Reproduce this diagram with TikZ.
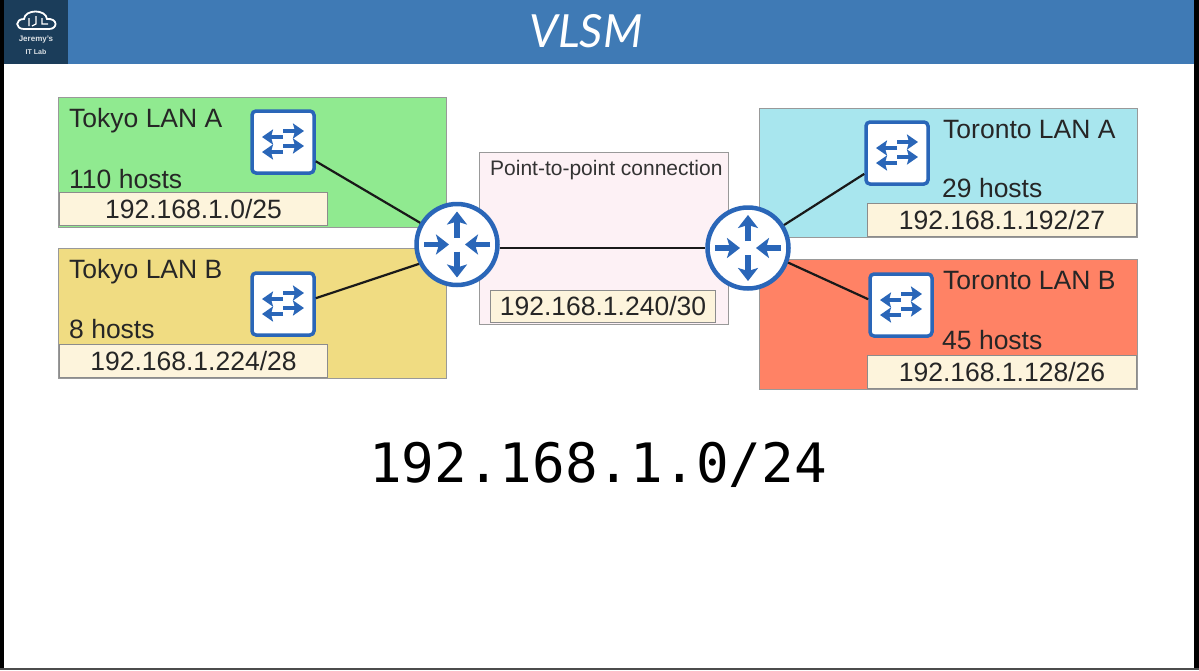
\documentclass[tikz,border=0pt]{standalone}
\usepackage{fontspec}
\setmainfont{Liberation Sans}
\newfontfamily\bigmono{DejaVu Sans Mono}
\newfontfamily\titlefont{Lato}
\usetikzlibrary{arrows.meta}
\definecolor{barblue}{HTML}{3F7AB5}
\definecolor{logoblue}{HTML}{1B3D5A}
\definecolor{iconblue}{HTML}{2A66B8}
\definecolor{lanA}{HTML}{90EA90}
\definecolor{lanB}{HTML}{F0DC82}
\definecolor{lanC}{HTML}{A8E6EE}
\definecolor{lanD}{HTML}{FF8265}
\definecolor{linkpink}{HTML}{FDF1F5}
\definecolor{subnetcream}{HTML}{FDF4DC}
\tikzset{
  zone/.style={draw=black!40, line width=1pt, inner sep=0pt, anchor=north west},
  subnet/.style={draw=black!45, line width=1pt, fill=subnetcream, inner sep=0pt, font=\fontsize{26.5}{30}\selectfont, text=black!85},
  lan/.style={anchor=base west, inner sep=0pt, font=\fontsize{26.5}{30}\selectfont, text=black!85},
  switchbox/.style={draw=iconblue, line width=3.5pt, rounded corners=4pt, fill=white, minimum size=62pt, inner sep=0pt},
  routernode/.style={circle, draw=iconblue, line width=4.5pt, fill=white, minimum size=81pt, inner sep=0pt},
  swarrow/.style={draw=iconblue, line width=4.5pt, -{Stealth[length=11pt,width=15pt,inset=2pt]}},
  rtarrow/.style={draw=iconblue, line width=5.5pt, -{Stealth[length=13pt,width=20pt,inset=3pt]}},
  wire/.style={draw=black!90, line width=2.2pt},
  pics/switchicon/.style={code={
    \draw[swarrow] (0,-11) -- (21,-11);
    \draw[swarrow] (0,-5) -- (-21,-5);
    \draw[swarrow] (0,4) -- (21,4);
    \draw[swarrow] (0,10) -- (-21,10);
  }},
  pics/routericon/.style={code={
    \draw[rtarrow] (0,-7) -- (0,-33);
    \draw[rtarrow] (0,7) -- (0,33);
    \draw[rtarrow] (-33,0) -- (-8,0);
    \draw[rtarrow] (33,0) -- (8,0);
  }}
}
\begin{document}
\begin{tikzpicture}[x=1pt,y=-1pt]
  \useasboundingbox (0,0) rectangle (1199,670);
  \fill[white] (0,0) rectangle (1199,670);
  % frame and title bar
  \fill[black] (0,0) rectangle (4,670);
  \fill[black] (1194,0) rectangle (1199,670);
  \fill[black!70] (0,668) rectangle (1199,670);
  \fill[barblue] (4,0) rectangle (1194,64);
  \fill[logoblue] (4,0) rectangle (68,64);
  \node[text=white, font=\titlefont\itshape\fontsize{45.7}{50}\selectfont] (title) at (586,31) {VLSM};
  % logo
  \draw[white, line width=1.8pt] (24,29) .. controls (15,29) and (15,19) .. (24,19) .. controls (25,9) and (46,9) .. (47,19) .. controls (58,18) and (58,29) .. (49,29) -- cycle;
  \draw[white, line width=1.2pt] (29,18) -- (29,26) (36,16) -- (36,24) -- (32,26) (42,18) -- (42,24) -- (48,24);
  \node[text=white!85!logoblue, font=\bfseries\fontsize{8}{9}\selectfont] (logoname) at (36,40) {Jeremy's};
  \node[text=white!85!logoblue, font=\bfseries\fontsize{7}{8}\selectfont] (logolab) at (36,52) {IT Lab};
  % areas
  \node[zone, fill=lanA, minimum width=388pt, minimum height=130pt] (tokyoA) at (58,97) {};
  \node[zone, fill=lanB, minimum width=388pt, minimum height=130pt] (tokyoB) at (58,248) {};
  \node[zone, fill=linkpink, minimum width=249pt, minimum height=172pt] (ptp) at (479,152) {};
  \node[zone, fill=lanC, minimum width=378pt, minimum height=129pt] (torontoA) at (759,108) {};
  \node[zone, fill=lanD, minimum width=378pt, minimum height=130pt] (torontoB) at (759,259) {};
  % subnets
  \node[subnet, minimum width=268.5pt, minimum height=33.5pt] (netA) at (193.5,209) {192.168.1.0/25};
  \node[subnet, minimum width=268.5pt, minimum height=33.5pt] (netB) at (193.5,361) {192.168.1.224/28};
  \node[subnet, minimum width=225.5pt, minimum height=32.5pt] (netP) at (603,306.5) {192.168.1.240/30};
  \node[subnet, minimum width=269.5pt, minimum height=33.5pt] (netC) at (1002,220) {192.168.1.192/27};
  \node[subnet, minimum width=269.5pt, minimum height=33.5pt] (netD) at (1002,372) {192.168.1.128/26};
  % labels
  \node[lan] (nameA) at (69,127) {Tokyo LAN A};
  \node[lan] (hostsA) at (69,188) {110 hosts};
  \node[lan] (nameB) at (69,278) {Tokyo LAN B};
  \node[lan] (hostsB) at (69,338) {8 hosts};
  \node[lan] (nameC) at (943,138) {Toronto LAN A};
  \node[lan] (hostsC) at (942,197) {29 hosts};
  \node[lan] (nameD) at (943,289) {Toronto LAN B};
  \node[lan] (hostsD) at (942,349) {45 hosts};
  \node[anchor=base west, inner sep=0pt, text=black!80, font=\fontsize{21}{24}\selectfont] (nameP) at (490,175) {Point-to-point connection};
  % devices
  \node[switchbox] (swA) at (283,142) {};
  \node[switchbox] (swB) at (283,304) {};
  \node[switchbox] (swC) at (897,153) {};
  \node[switchbox] (swD) at (901,305) {};
  \node[routernode] (rtTokyo) at (457,244.5) {};
  \node[routernode] (rtToronto) at (748,248) {};
  % connections
  \draw[wire] (swA) -- (rtTokyo);
  \draw[wire] (swB.10) -- (rtTokyo.207);
  \draw[wire] (rtTokyo.east |- rtToronto) -- (rtToronto);
  \draw[wire] (swC) -- (rtToronto);
  \draw[wire] (swD.170) -- (rtToronto.-20);
  % icons
  \pic at (swA) {switchicon};
  \pic at (swB) {switchicon};
  \pic at (swC) {switchicon};
  \pic at (swD) {switchicon};
  \pic at (rtTokyo) {routericon};
  \pic at (rtToronto) {routericon};
  % supernet
  \node[font=\bigmono\fontsize{54.3}{60}\selectfont, inner sep=0pt] (supernet) at (598,465) {192.168.1.0/24};
\end{tikzpicture}
\end{document}
